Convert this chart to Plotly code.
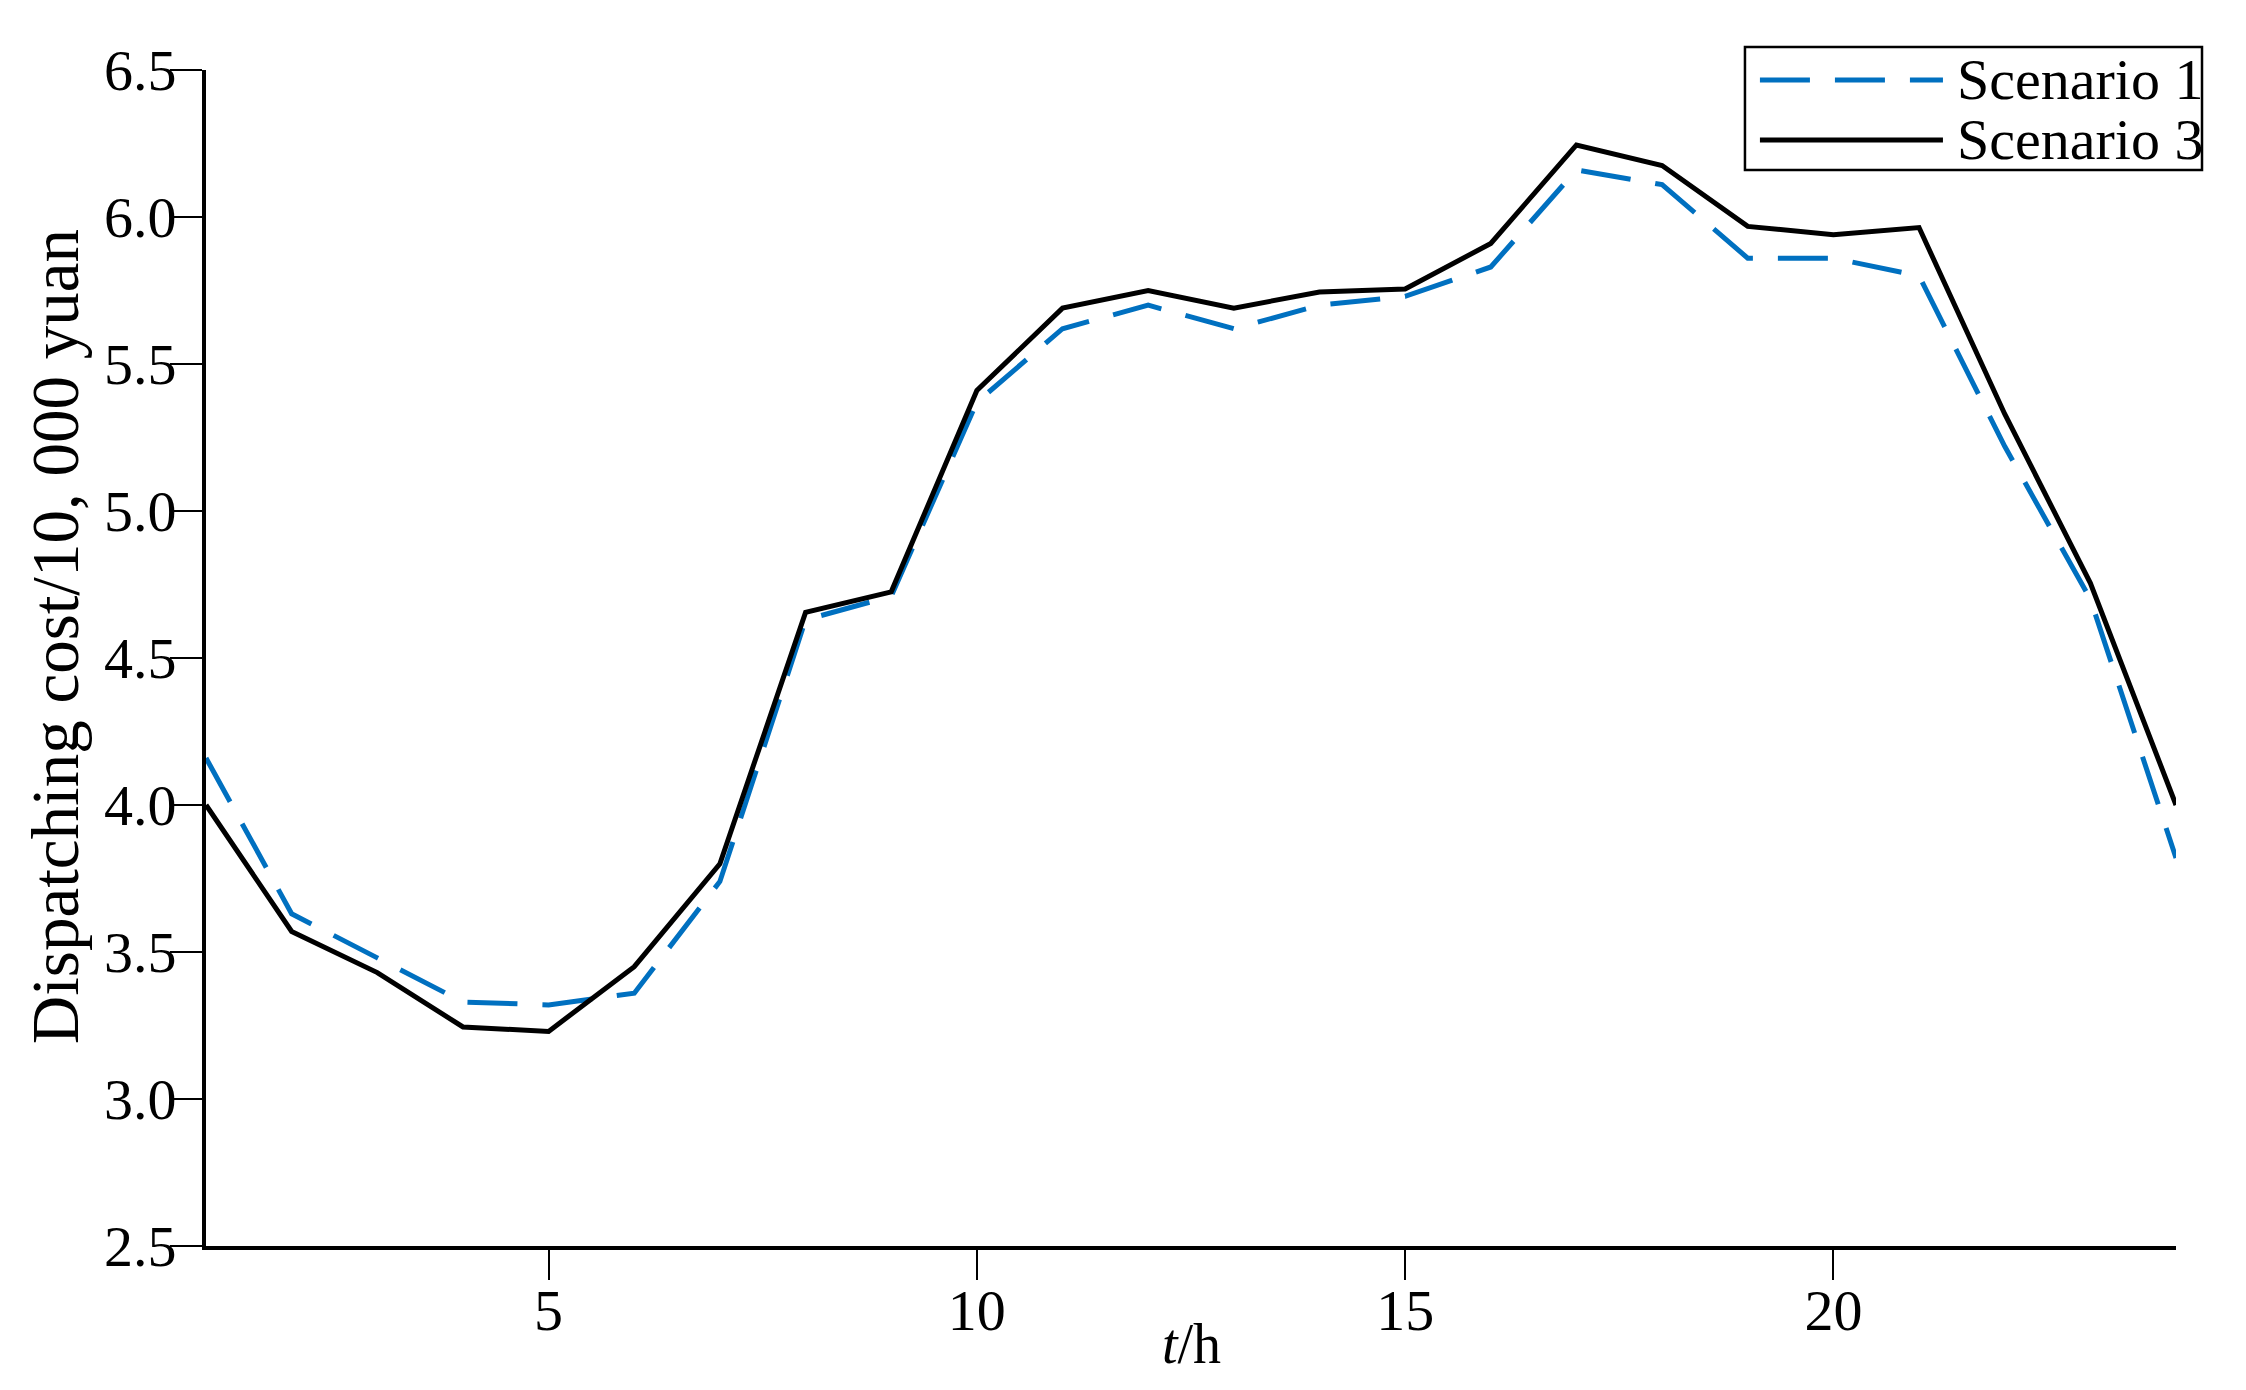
import plotly.graph_objects as go

# hours
hours = list(range(1, 25))

# dispatching cost (10,000 yuan)
scenario_1 = [4.16, 3.63, 3.48, 3.33, 3.32, 3.36, 3.74, 4.63, 4.71, 5.37, 5.62, 5.70,
              5.62, 5.70, 5.73, 5.83, 6.16, 6.11, 5.86, 5.86, 5.80, 5.22, 4.70, 3.82]
scenario_3 = [4.00, 3.57, 3.43, 3.245, 3.23, 3.45, 3.80, 4.655, 4.725, 5.41, 5.69, 5.75,
              5.69, 5.745, 5.755, 5.91, 6.245, 6.175, 5.968, 5.94, 5.964, 5.33, 4.755, 4.00]

x_ticks = [5, 10, 15, 20]
y_ticks = [2.5, 3.0, 3.5, 4.0, 4.5, 5.0, 5.5, 6.0, 6.5]

names = ["Scenario 1", "Scenario 3"]
colors = ["#0070C0", "black"]
dashes = ["50px,25px", "solid"]

FONT = "Liberation Serif"

fig = go.Figure()
for name, ys, col, dash in zip(names, [scenario_1, scenario_3], colors, dashes):
    fig.add_trace(go.Scatter(x=hours, y=ys, mode="lines", name=name, showlegend=False,
                             line=dict(color=col, width=5, dash=dash)))

# boxed legend drawn in paper space (tighter rows than plotly's own legend)
fig.add_shape(type="rect", xref="paper", yref="paper", x0=0.7812, x1=1.0132,
              y0=0.915, y1=1.0196, line=dict(color="black", width=2.5),
              fillcolor="white", layer="above")
for name, col, dash, ry in zip(names, colors, dashes, [0.9915, 0.9405]):
    fig.add_shape(type="line", xref="paper", yref="paper", x0=0.7888, x1=0.8817,
                  y0=ry, y1=ry, line=dict(color=col, width=5, dash=dash), layer="above")
    fig.add_annotation(xref="paper", yref="paper", x=0.8878, y=ry, xanchor="left",
                       yanchor="middle", text=name, showarrow=False,
                       font=dict(family=FONT, size=58, color="black"))

# axis titles
fig.add_annotation(xref="paper", yref="paper", x=0.5, y=-0.083, xanchor="center",
                   yanchor="middle", text="<i>t</i>/h", showarrow=False,
                   font=dict(family=FONT, size=56, color="black"))
fig.add_annotation(xref="paper", yref="paper", x=-0.0765, y=0.518, xanchor="center",
                   yanchor="middle", textangle=-90, text="Dispatching cost/10, 000 yuan",
                   showarrow=False, font=dict(family=FONT, size=67, color="black"))

fig.update_layout(
    width=2230, height=1374,
    margin=dict(l=198, r=62, t=62, b=136),
    plot_bgcolor="white", paper_bgcolor="white",
    font=dict(family=FONT, size=56, color="black"),
    showlegend=False,
)
fig.update_xaxes(range=[1, 24], tickvals=x_ticks, ticks="outside", ticklen=30,
                 tickwidth=2, tickcolor="black", showline=True, linewidth=4,
                 linecolor="black", showgrid=False, zeroline=False, automargin=False,
                 ticklabelstandoff=-20, tickfont=dict(family=FONT, size=58))
fig.update_yaxes(range=[2.5, 6.5], tickvals=y_ticks, ticktext=[f"{v:.1f}" for v in y_ticks],
                 ticks="outside", ticklen=32, tickwidth=2, tickcolor="black",
                 showline=True, linewidth=4, linecolor="black", showgrid=False,
                 zeroline=False, automargin=False, ticklabelstandoff=-18,
                 tickfont=dict(family=FONT, size=58))

fig.write_html("out.html")
